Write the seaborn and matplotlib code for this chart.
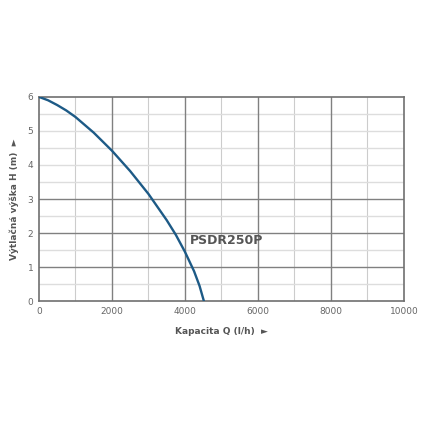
import numpy as np
import pandas as pd
import matplotlib
matplotlib.use("Agg")
import matplotlib.pyplot as plt
import seaborn as sns

# Pump curve
flow = [0, 250, 500, 750, 1000, 1500, 2000, 2500, 3000, 3500, 3750, 4000, 4250, 4400, 4520]
head = [6.0, 5.9, 5.76, 5.6, 5.41, 4.95, 4.42, 3.82, 3.15, 2.38, 1.95, 1.45, 0.88, 0.45, 0.0]
x_ticks = [0, 2000, 4000, 6000, 8000, 10000]
y_ticks = [0, 1, 2, 3, 4, 5, 6]
model = "PSDR250P"

df = pd.DataFrame({"Q": flow, "H": head})

sns.set_style("white")

fig = plt.figure(figsize=(4.23, 4.23), dpi=100)
ax = fig.add_axes([0.092, 0.288, 0.863, 0.483])

# light grid
for x in range(1000, 10000, 1000):
    if x % 2000:
        ax.axvline(x, color="#cccccc", lw=0.8, zorder=0)
for y in np.arange(0.5, 6, 0.5):
    if y not in (1, 2, 3):
        ax.axhline(y, color="#dddddd", lw=1.0, zorder=0)
# dark grid
for x in (2000, 4000, 6000, 8000):
    ax.axvline(x, color="#808080", lw=1.0, zorder=1)
for y in (1, 2, 3):
    ax.axhline(y, color="#808080", lw=1.0, zorder=1)

sns.lineplot(data=df, x="Q", y="H", ax=ax, color="#1d5a86", lw=1.7, zorder=3)

ax.set_xlim(0, 10000)
ax.set_ylim(0, 6)
ax.set_xticks(x_ticks)
ax.set_yticks(y_ticks)
ax.tick_params(labelsize=6.5, colors="#666666", length=0, pad=4)
for s in ax.spines.values():
    s.set_color("#707070")
    s.set_linewidth(1.2)

ax.set_xlabel("Kapacita Q (l/h)  \u25ba", fontsize=6.5, fontweight="bold",
              color="#555555", labelpad=8)
ax.set_ylabel("Výtlačná výška H (m)  \u25ba", fontsize=6.5, fontweight="bold",
              color="#555555", labelpad=6)

ax.text(4130, 1.77, model, fontsize=9, fontweight="bold", color="#555555",
        va="center", ha="left", zorder=4)

fig.savefig("out.png", dpi=100)
